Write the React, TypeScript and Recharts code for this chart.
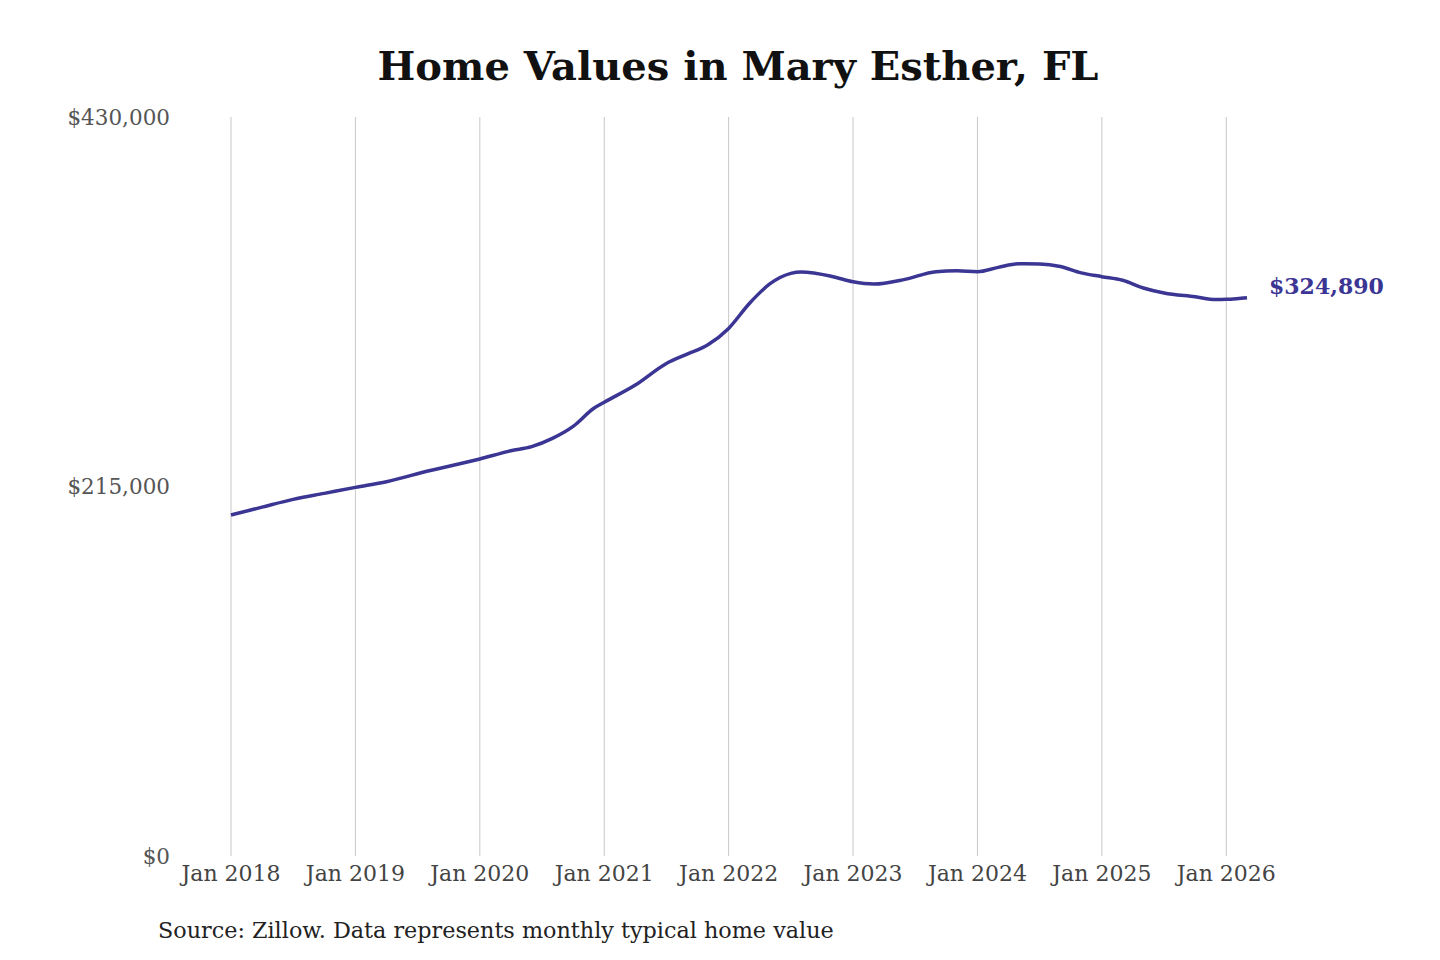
import { LineChart, Line, XAxis, YAxis, CartesianGrid } from 'recharts'

// months since Jan 2018
const months = [0, 3, 6, 9, 12, 15, 19, 24, 27, 29, 31, 33, 35, 36, 39, 42, 44, 46, 48, 50, 52, 54, 55, 58, 60, 62, 65, 68, 70, 72, 74, 76, 78, 80, 82, 84, 86, 88, 90, 93, 95, 96, 97, 98]
// typical home value (USD)
const values = [
  198400, 203000, 207500, 211000, 214500, 217800, 224000, 231000, 235800, 238200,
  243000, 250000, 260500, 264000, 274000, 286600, 292000, 297500, 307000, 321500,
  333000, 339000, 339800, 337200, 334100, 332800, 335500, 340000, 340500, 340000,
  342500, 344600, 344500, 343000, 339300, 337100, 335000, 330500, 327600, 325400,
  323800, 323900, 324300, 324890,
]
const xTicks = [0, 12, 24, 36, 48, 60, 72, 84, 96]
const yTicks = [0, 215000, 430000]

const data = months.map((m, i) => ({ month: m, value: values[i] }))

const LINE_COLOR = '#3b3593'
const FONT = '"DejaVu Serif", serif'

const formatMoney = (v: number) => `$${v.toLocaleString('en-US')}`

const renderEndLabel = (props: any) => {
  const { x, y, index } = props
  if (index !== data.length - 1) return null
  return (
    <text
      x={x + 22}
      y={y - 12}
      fill={LINE_COLOR}
      fontFamily={FONT}
      fontSize={22}
      fontWeight="bold"
      dominantBaseline="central"
    >
      {formatMoney(values[values.length - 1])}
    </text>
  )
}

export default function App() {
  return (
    <div style={{ position: 'relative', width: 1440, height: 960, background: '#fff', fontFamily: FONT }}>
      <style>{`body{margin:0}`}</style>
      <div
        style={{
          position: 'absolute',
          top: 42,
          left: 0,
          width: 1476,
          textAlign: 'center',
          fontSize: 40,
          fontWeight: 'bold',
          color: '#111',
        }}
      >
        Home Values in Mary Esther, FL
      </div>
      <LineChart width={1440} height={960} data={data} margin={{ top: 117, right: 193, bottom: 74, left: 0 }}>
        <CartesianGrid horizontal={false} stroke="#c8c8c8" syncWithTicks />
        <XAxis
          dataKey="month"
          type="number"
          domain={[0, 98]}
          ticks={xTicks}
          tickFormatter={(m: number) => `Jan ${2018 + m / 12}`}
          axisLine={false}
          tickLine={false}
          tickMargin={3}
          tick={{ fill: '#444', fontSize: 22, fontFamily: FONT }}
        />
        <YAxis
          width={231}
          domain={[0, 430000]}
          ticks={yTicks}
          tickFormatter={formatMoney}
          axisLine={false}
          tickLine={false}
          tickMargin={55}
          tick={{ fill: '#555', fontSize: 21.5, fontFamily: FONT }}
        />
        <Line
          type="monotone"
          dataKey="value"
          stroke={LINE_COLOR}
          strokeWidth={3.5}
          dot={false}
          isAnimationActive={false}
          label={renderEndLabel}
        />
      </LineChart>
      <div
        style={{
          position: 'absolute',
          top: 917,
          left: 158,
          fontSize: 22.3,
          color: '#222',
        }}
      >
        Source: Zillow. Data represents monthly typical home value
      </div>
    </div>
  )
}
